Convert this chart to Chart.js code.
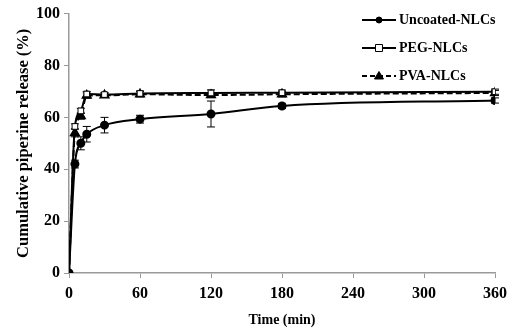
<!DOCTYPE html>
<html>
<head>
<meta charset="utf-8">
<script src="https://cdn.jsdelivr.net/npm/chart.js@4"></script>
<style>
  html, body { margin: 0; padding: 0; background: #fff; }
  #wrap { width: 515px; height: 329px; position: relative; }
</style>
</head>
<body>
<div id="wrap"><canvas id="releaseChart"></canvas></div>
<script>
// time points (min)
const times = [0, 5, 10, 15, 30, 60, 120, 180, 360];

// cumulative release (%)
const uncoated = [0, 42, 50, 53.5, 57, 59.3, 61.3, 64.4, 66.5];
const peg = [0, 56.5, 62.5, 69, 68.8, 69.2, 69.4, 69.5, 69.9];
const pva = [0, 54, 60.5, 68.4, 68.5, 68.9, 68.6, 68.9, 69.4];

// standard deviations
const uncoatedErr = [0, 1.5, 2.5, 3, 3, 1.5, 5, 1, 1];
const pegErr = [0, 1, 1, 1, 0.8, 1, 1.2, 1, 1];
const pvaErr = [0, 1.5, 1.2, 1, 0.8, 1, 1, 1, 1];

const xTicks = [0, 60, 120, 180, 240, 300, 360];

const serif = '"Liberation Serif", "Times New Roman", serif';

function toPoints(vals) {
    return times.map(function(t, i) { return { x: t, y: vals[i] }; });
}

// vertical error bars, drawn under the markers
const errorBars = {
    id: 'errorBars',
    beforeDatasetsDraw: function(chart) {
        const ctx = chart.ctx;
        const xs = chart.scales.x, ys = chart.scales.y;
        ctx.save();
        ctx.strokeStyle = '#000';
        ctx.lineWidth = 1;
        chart.data.datasets.forEach(function(ds) {
            ds.data.forEach(function(p, i) {
                const e = ds.errors[i];
                if (!e) return;
                const px = xs.getPixelForValue(p.x);
                const top = ys.getPixelForValue(p.y + e);
                const bot = ys.getPixelForValue(p.y - e);
                ctx.beginPath();
                ctx.moveTo(px, top); ctx.lineTo(px, bot);
                ctx.moveTo(px - 4, top); ctx.lineTo(px + 4, top);
                ctx.moveTo(px - 4, bot); ctx.lineTo(px + 4, bot);
                ctx.stroke();
            });
        });
        ctx.restore();
    }
};

// legend: short line with a small marker, then the label
const lineLegend = {
    id: 'lineLegend',
    afterDraw: function(chart) {
        const ctx = chart.ctx;
        const rows = [20, 48, 76];
        const mx = 379;
        ctx.save();
        chart.data.datasets.forEach(function(ds, i) {
            const y = rows[i];
            ctx.strokeStyle = '#000';
            ctx.lineWidth = 2;
            ctx.setLineDash(ds.borderDash ? [5, 3] : []);
            ctx.beginPath();
            ctx.moveTo(362, y); ctx.lineTo(396, y);
            ctx.stroke();
            ctx.setLineDash([]);
            ctx.fillStyle = ds.pointBackgroundColor;
            ctx.lineWidth = 1;
            ctx.beginPath();
            if (ds.pointStyle === 'circle') {
                ctx.arc(mx, y, 3, 0, Math.PI * 2);
            } else if (ds.pointStyle === 'rect') {
                ctx.rect(mx - 3.5, y - 3.5, 7, 7);
            } else {
                ctx.moveTo(mx, y - 4.5);
                ctx.lineTo(mx + 4.5, y + 3);
                ctx.lineTo(mx - 4.5, y + 3);
                ctx.closePath();
            }
            ctx.fill();
            ctx.stroke();
            ctx.fillStyle = '#000';
            ctx.font = 'bold 14px ' + serif;
            ctx.textBaseline = 'middle';
            ctx.fillText(ds.label, 399, y);
        });
        ctx.restore();
    }
};

const ctx = document.getElementById('releaseChart').getContext('2d');
const releaseChart = new Chart(ctx, {
    type: 'line',
    data: {
        datasets: [{
            label: 'Uncoated-NLCs',
            data: toPoints(uncoated),
            errors: uncoatedErr,
            borderColor: '#000',
            borderWidth: 2,
            pointStyle: 'circle',
            pointRadius: 3.5,
            pointBackgroundColor: '#000',
            pointBorderColor: '#000',
            cubicInterpolationMode: 'monotone'
        }, {
            label: 'PEG-NLCs',
            data: toPoints(peg),
            errors: pegErr,
            borderColor: '#000',
            borderWidth: 2,
            pointStyle: 'rect',
            pointRadius: 4,
            pointBorderWidth: 1,
            pointBackgroundColor: '#fff',
            pointBorderColor: '#000',
            cubicInterpolationMode: 'monotone'
        }, {
            label: 'PVA-NLCs',
            data: toPoints(pva),
            errors: pvaErr,
            borderColor: '#000',
            borderWidth: 2,
            borderDash: [6, 3],
            pointStyle: 'triangle',
            pointRadius: 4.5,
            pointBackgroundColor: '#000',
            pointBorderColor: '#000',
            cubicInterpolationMode: 'monotone'
        }]
    },
    options: {
        responsive: true,
        maintainAspectRatio: false,
        animation: false,
        layout: {
            padding: { top: 13, right: 20, bottom: 0, left: 14 }
        },
        plugins: {
            legend: { display: false },
            tooltip: { enabled: false }
        },
        scales: {
            x: {
                type: 'linear',
                min: 0,
                max: 360,
                afterBuildTicks: function(scale) {
                    scale.ticks = xTicks.map(function(v) { return { value: v }; });
                },
                grid: {
                    drawOnChartArea: false,
                    color: '#999',
                    tickLength: 5
                },
                border: { color: '#999', width: 1.5 },
                ticks: {
                    color: '#000',
                    padding: 6,
                    maxRotation: 0,
                    font: { family: serif, size: 16, weight: 'bold' }
                },
                title: {
                    display: true,
                    text: 'Time (min)',
                    color: '#000',
                    padding: { top: 1, bottom: 0 },
                    font: { family: serif, size: 14, weight: 'bold' }
                },
                afterFit: function(scale) { scale.height = 56; }
            },
            y: {
                min: 0,
                max: 100,
                ticks: {
                    stepSize: 20,
                    color: '#000',
                    padding: 4,
                    font: { family: serif, size: 16, weight: 'bold' }
                },
                grid: {
                    drawOnChartArea: false,
                    color: '#999',
                    tickLength: 5
                },
                border: { color: '#999', width: 1.5 },
                title: {
                    display: true,
                    text: 'Cumulative piperine release (%)',
                    color: '#000',
                    padding: { top: 0, bottom: 4 },
                    font: { family: serif, size: 16.5, weight: 'bold' }
                },
                afterFit: function(scale) { scale.width = 55; }
            }
        }
    },
    plugins: [errorBars, lineLegend]
});
</script>
</body>
</html>
